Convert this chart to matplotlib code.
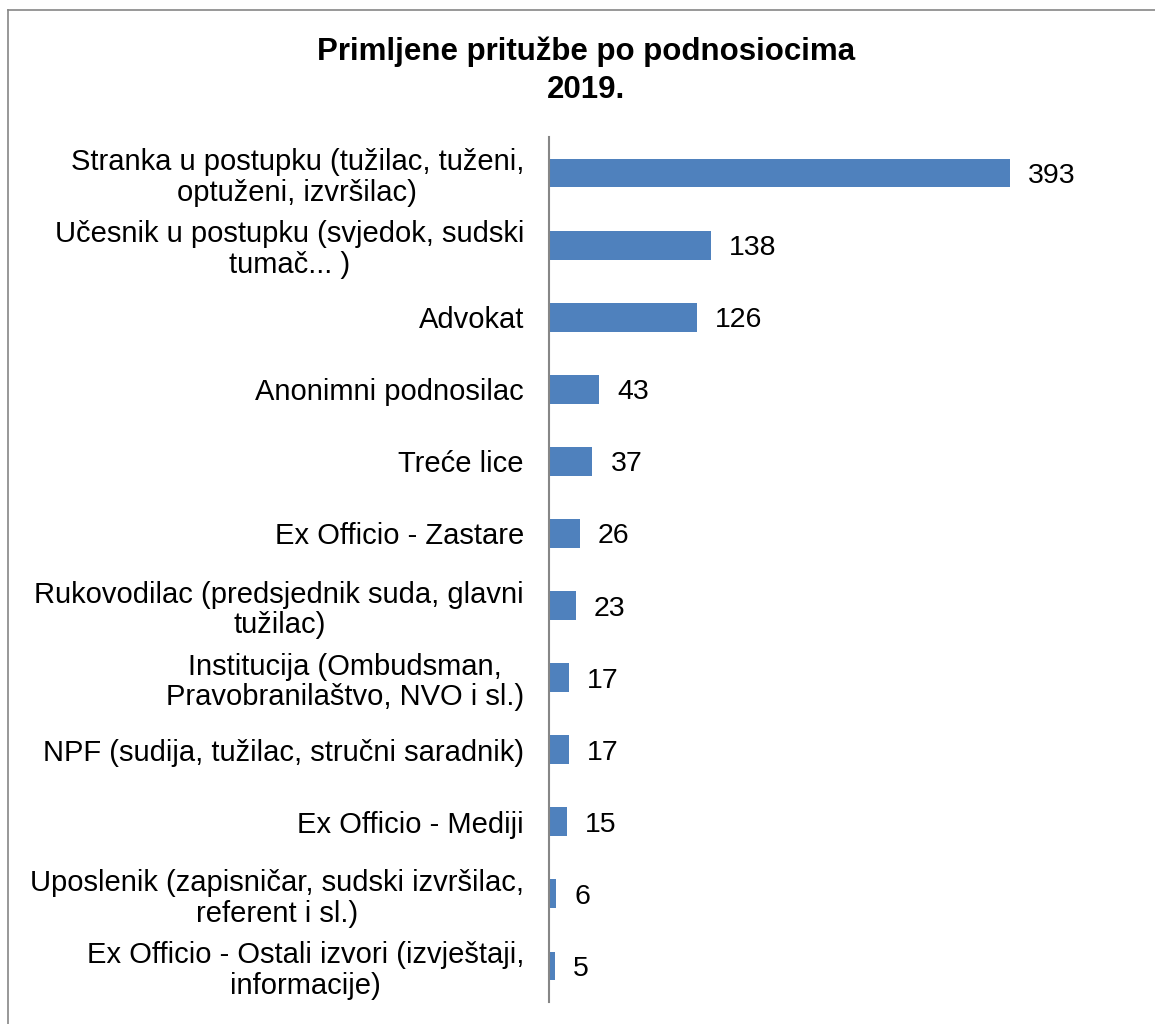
import matplotlib
matplotlib.use("Agg")
import matplotlib.pyplot as plt
from matplotlib.lines import Line2D

# ── data ─────────────────────────────────────────────────────────────
CATEGORIES = [
    "Stranka u postupku (tužilac, tuženi,\noptuženi, izvršilac)",
    "Učesnik u postupku (svjedok, sudski\ntumač... )",
    "Advokat",
    "Anonimni podnosilac",
    "Treće lice",
    "Ex Officio - Zastare",
    "Rukovodilac (predsjednik suda, glavni\ntužilac)",
    "Institucija (Ombudsman,\nPravobranilaštvo, NVO i sl.)",
    "NPF (sudija, tužilac, stručni saradnik)",
    "Ex Officio - Mediji",
    "Uposlenik (zapisničar, sudski izvršilac,\nreferent i sl.)",
    "Ex Officio - Ostali izvori (izvještaji,\ninformacije)",
]
VALUES = [393, 138, 126, 43, 37, 26, 23, 17, 17, 15, 6, 5]
TITLE = "Primljene pritužbe po podnosiocima\n2019."

BAR_COLOR = "#4F81BD"
AXIS_COLOR = "#868686"

plt.rcParams["font.family"] = ["Liberation Sans", "DejaVu Sans"]

fig = plt.figure(figsize=(11.55, 10.24), dpi=100)
ax = fig.add_axes([549 / 1155, 1 - 1002 / 1024, 528 / 1155, 865 / 1024])

ypos = range(len(CATEGORIES))
bars = ax.barh(ypos, VALUES, height=0.4, color=BAR_COLOR)
ax.set_ylim(len(CATEGORIES) - 0.5, -0.5)
ax.set_xlim(0, 450)

value_texts = ax.bar_label(bars, labels=[str(v) for v in VALUES],
                           padding=13, fontsize=20.5)
for t in value_texts:
    t.set_verticalalignment("center_baseline")

ax.set_yticks(list(ypos))
ax.set_yticklabels(CATEGORIES, fontsize=21, linespacing=1.12)
for t in ax.get_yticklabels():
    t.set_multialignment("center")
ax.tick_params(axis="y", length=0, pad=18)
ax.set_xticks([])

for side in ["top", "right", "bottom"]:
    ax.spines[side].set_visible(False)
ax.spines["left"].set_color(AXIS_COLOR)
ax.spines["left"].set_linewidth(1.5)

fig.text(586 / 1155, 1 - 71 / 1024, TITLE, ha="center", va="center",
         fontsize=22.5, fontweight="bold", linespacing=1.33)

# chart area border (only left and top visible in the crop)
fig.add_artist(Line2D([8 / 1155, 8 / 1155], [0, 1 - 10 / 1024],
                      transform=fig.transFigure, color=AXIS_COLOR, lw=1.2))
fig.add_artist(Line2D([8 / 1155, 1], [1 - 10 / 1024, 1 - 10 / 1024],
                      transform=fig.transFigure, color=AXIS_COLOR, lw=1.2))

fig.savefig("out.png", dpi=100)
